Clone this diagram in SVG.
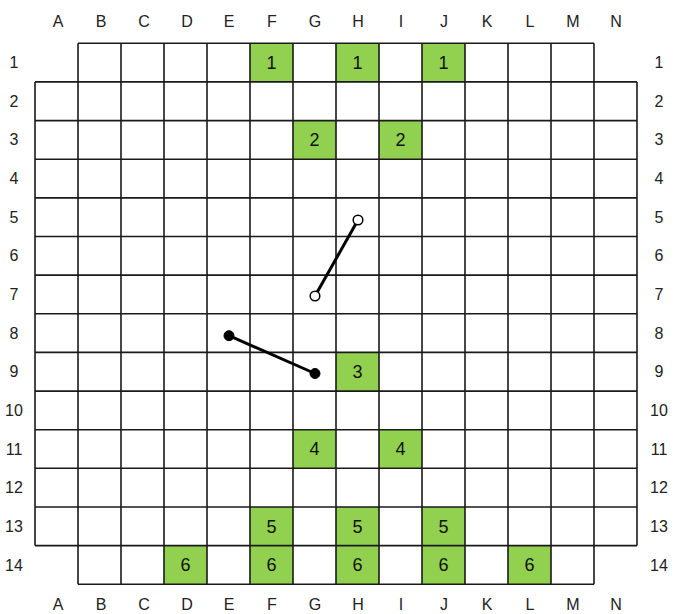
<svg xmlns="http://www.w3.org/2000/svg" width="674" height="614" viewBox="0 0 674 614">
<style>
.lbl{font-family:"Liberation Sans",Arial,sans-serif;font-size:16px;fill:#222;text-anchor:middle;dominant-baseline:central}
.num{font-family:"Liberation Sans",Arial,sans-serif;font-size:18px;fill:#111;text-anchor:middle;dominant-baseline:central}
.g{fill:#92D050}
.grid{fill:none;stroke:#1a1a1a;stroke-width:1.6}
.link{stroke:#000;stroke-width:3;fill:none}
.open{fill:#fff;stroke:#000;stroke-width:1.5}
.filled{fill:#000;stroke:#000;stroke-width:1}
</style>
<rect width="674" height="614" fill="#fff"/>
<g id="cells">
<g id="F1"><rect class="g" x="250" y="43.3" width="43" height="38.6"/><text class="num" x="271.5" y="63">1</text></g>
<g id="H1"><rect class="g" x="336" y="43.3" width="43" height="38.6"/><text class="num" x="357.5" y="63">1</text></g>
<g id="J1"><rect class="g" x="422" y="43.3" width="43" height="38.6"/><text class="num" x="443.5" y="63">1</text></g>
<g id="G3"><rect class="g" x="293" y="120.6" width="43" height="38.6"/><text class="num" x="314.5" y="140.3">2</text></g>
<g id="I3"><rect class="g" x="379" y="120.6" width="43" height="38.6"/><text class="num" x="400.5" y="140.3">2</text></g>
<g id="H9"><rect class="g" x="336" y="352.4" width="43" height="38.7"/><text class="num" x="357.5" y="372.1">3</text></g>
<g id="G11"><rect class="g" x="293" y="429.7" width="43" height="38.6"/><text class="num" x="314.5" y="449.4">4</text></g>
<g id="I11"><rect class="g" x="379" y="429.7" width="43" height="38.6"/><text class="num" x="400.5" y="449.4">4</text></g>
<g id="F13"><rect class="g" x="250" y="507" width="43" height="38.6"/><text class="num" x="271.5" y="526.7">5</text></g>
<g id="H13"><rect class="g" x="336" y="507" width="43" height="38.6"/><text class="num" x="357.5" y="526.7">5</text></g>
<g id="J13"><rect class="g" x="422" y="507" width="43" height="38.6"/><text class="num" x="443.5" y="526.7">5</text></g>
<g id="D14"><rect class="g" x="164" y="545.6" width="43" height="38.7"/><text class="num" x="185.5" y="565.3">6</text></g>
<g id="F14"><rect class="g" x="250" y="545.6" width="43" height="38.7"/><text class="num" x="271.5" y="565.3">6</text></g>
<g id="H14"><rect class="g" x="336" y="545.6" width="43" height="38.7"/><text class="num" x="357.5" y="565.3">6</text></g>
<g id="J14"><rect class="g" x="422" y="545.6" width="43" height="38.7"/><text class="num" x="443.5" y="565.3">6</text></g>
<g id="L14"><rect class="g" x="508" y="545.6" width="43" height="38.7"/><text class="num" x="529.5" y="565.3">6</text></g>
</g>
<g id="grid">
<path class="grid" d="M78 43.3H594 M35 81.9H637 M35 120.6H637 M35 159.2H637 M35 197.9H637 M35 236.5H637 M35 275.1H637 M35 313.8H637 M35 352.4H637 M35 391.1H637 M35 429.7H637 M35 468.3H637 M35 507H637 M35 545.6H637 M78 584.3H594 M35 81.9V545.6 M637 81.9V545.6 M78 43.3V584.3 M121 43.3V584.3 M164 43.3V584.3 M207 43.3V584.3 M250 43.3V584.3 M293 43.3V584.3 M336 43.3V584.3 M379 43.3V584.3 M422 43.3V584.3 M465 43.3V584.3 M508 43.3V584.3 M551 43.3V584.3 M594 43.3V584.3"/>
</g>
<g id="col-labels-top">
<text class="lbl" x="58" y="21">A</text><text class="lbl" x="101" y="21">B</text><text class="lbl" x="144" y="21">C</text><text class="lbl" x="187" y="21">D</text><text class="lbl" x="229" y="21">E</text><text class="lbl" x="272" y="21">F</text><text class="lbl" x="315" y="21">G</text><text class="lbl" x="358" y="21">H</text><text class="lbl" x="401" y="21">I</text><text class="lbl" x="444" y="21">J</text><text class="lbl" x="487" y="21">K</text><text class="lbl" x="530" y="21">L</text><text class="lbl" x="573" y="21">M</text><text class="lbl" x="616" y="21">N</text>
</g>
<g id="col-labels-bottom">
<text class="lbl" x="58" y="604">A</text><text class="lbl" x="101" y="604">B</text><text class="lbl" x="144" y="604">C</text><text class="lbl" x="187" y="604">D</text><text class="lbl" x="229" y="604">E</text><text class="lbl" x="272" y="604">F</text><text class="lbl" x="315" y="604">G</text><text class="lbl" x="358" y="604">H</text><text class="lbl" x="401" y="604">I</text><text class="lbl" x="444" y="604">J</text><text class="lbl" x="487" y="604">K</text><text class="lbl" x="530" y="604">L</text><text class="lbl" x="573" y="604">M</text><text class="lbl" x="616" y="604">N</text>
</g>
<g id="row-labels-left">
<text class="lbl" x="14" y="62.6">1</text><text class="lbl" x="14" y="101.2">2</text><text class="lbl" x="14" y="139.9">3</text><text class="lbl" x="14" y="178.5">4</text><text class="lbl" x="14" y="217.2">5</text><text class="lbl" x="14" y="255.8">6</text><text class="lbl" x="14" y="294.5">7</text><text class="lbl" x="14" y="333.1">8</text><text class="lbl" x="14" y="371.7">9</text><text class="lbl" x="14" y="410.4">10</text><text class="lbl" x="14" y="449">11</text><text class="lbl" x="14" y="487.7">12</text><text class="lbl" x="14" y="526.3">13</text><text class="lbl" x="14" y="565">14</text>
</g>
<g id="row-labels-right">
<text class="lbl" x="659" y="62.6">1</text><text class="lbl" x="659" y="101.2">2</text><text class="lbl" x="659" y="139.9">3</text><text class="lbl" x="659" y="178.5">4</text><text class="lbl" x="659" y="217.2">5</text><text class="lbl" x="659" y="255.8">6</text><text class="lbl" x="659" y="294.5">7</text><text class="lbl" x="659" y="333.1">8</text><text class="lbl" x="659" y="371.7">9</text><text class="lbl" x="659" y="410.4">10</text><text class="lbl" x="659" y="449">11</text><text class="lbl" x="659" y="487.7">12</text><text class="lbl" x="659" y="526.3">13</text><text class="lbl" x="659" y="565">14</text>
</g>
<g id="connectors">
<line class="link" x1="358" y1="220" x2="315" y2="296"/>
<circle class="open" cx="358" cy="220" r="4.8"/>
<circle class="open" cx="315" cy="296" r="4.8"/>
<line class="link" x1="229" y1="335.7" x2="315" y2="373.5"/>
<circle class="filled" cx="229" cy="335.7" r="5"/>
<circle class="filled" cx="315" cy="373.5" r="5"/>
</g>
</svg>
